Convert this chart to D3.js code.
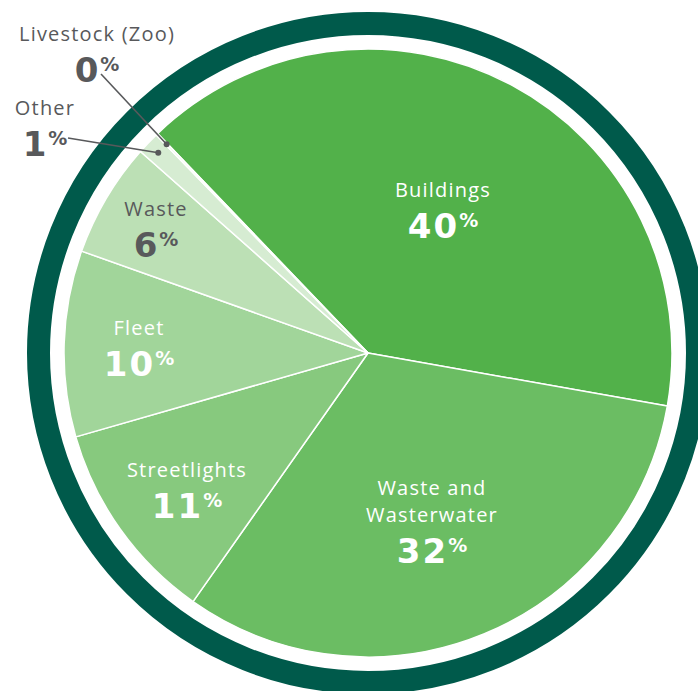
<!DOCTYPE html>
<html lang="en">
  <head>
    <meta charset="utf-8">
    <title>Emissions by sector</title>
    <script src="https://d3js.org/d3.v7.min.js"></script>
    <style>
      body { margin: 0; background: #fff; }
      svg { display: block; }
      .name { font-family: "Open Sans", sans-serif; font-size: 20px; font-weight: 400; letter-spacing: 1.2px; }
      .pct { font-family: "DejaVu Sans", sans-serif; font-size: 34px; font-weight: 700; letter-spacing: 2px; }
      .sup { font-size: 19px; letter-spacing: 0; }
    </style>
  </head>
  <body>
    <script>
      // data
      var sectors = ["Buildings", "Waste and Wasterwater", "Streetlights", "Fleet", "Waste", "Other", "Livestock (Zoo)"];
      var shares = [40.0, 32.0, 10.8, 9.9, 6.1, 1.2, 0.1];
      var shown = ["40", "32", "11", "10", "6", "1", "0"];

      var width = 698, height = 691,
          cx = 368, cy = 353,
          radius = 304;

      var colors = ["#52b14a", "#6bbd63", "#87c97e", "#a1d59a", "#bce0b5", "#d6ecd2", "#e3f2e0"];

      // label placement (layout only)
      var labelPos = [
        {x: 443, y: 197, lines: ["Buildings"], fill: "#fff"},
        {x: 432, y: 495, lines: ["Waste and", "Wasterwater"], fill: "#fff"},
        {x: 187, y: 477, lines: ["Streetlights"], fill: "#fff"},
        {x: 139, y: 335, lines: ["Fleet"], fill: "#fff"},
        {x: 156, y: 216, lines: ["Waste"], fill: "#58595b"},
        {x: 45, y: 115, lines: ["Other"], fill: "#58595b"},
        {x: 97, y: 41, lines: ["Livestock (Zoo)"], fill: "#58595b"}
      ];

      var svg = d3.select("body").append("svg")
        .attr("width", width)
        .attr("height", height);

      var g = svg.append("g")
        .attr("transform", "translate(" + cx + "," + cy + ")");

      // outer ring
      g.append("circle")
        .attr("r", 329.5)
        .attr("fill", "none")
        .attr("stroke", "#005a4b")
        .attr("stroke-width", 23);

      var start = -43.8 * Math.PI / 180;
      var pie = d3.pie()
        .sort(null)
        .value(function(d) { return d; })
        .startAngle(start)
        .endAngle(start + 2 * Math.PI);

      var arcs = pie(shares);

      var arc = d3.arc().innerRadius(0).outerRadius(radius);

      g.selectAll("path.slice")
        .data(arcs)
        .enter().append("path")
        .attr("class", "slice")
        .attr("d", arc)
        .attr("fill", function(d, i) { return colors[i]; })
        .attr("stroke", "#fff")
        .attr("stroke-width", 1.5)
        .attr("stroke-linejoin", "round");

      // leader lines for the two small slices
      var dotArc = d3.arc().innerRadius(290).outerRadius(290);
      var leaders = [
        {i: 5, from: [68 - cx, 138 - cy]},
        {i: 6, from: [101 - cx, 74 - cy]}
      ];
      leaders.forEach(function(l) {
        var c = dotArc.centroid(arcs[l.i]);
        g.append("line")
          .attr("x1", l.from[0]).attr("y1", l.from[1])
          .attr("x2", c[0]).attr("y2", c[1])
          .attr("stroke", "#58595b")
          .attr("stroke-width", 1.6);
        g.append("circle")
          .attr("cx", c[0]).attr("cy", c[1])
          .attr("r", 3)
          .attr("fill", "#58595b");
      });

      // labels
      labelPos.forEach(function(p, i) {
        var lab = svg.append("g").attr("fill", p.fill);
        p.lines.forEach(function(t, k) {
          lab.append("text")
            .attr("class", "name")
            .attr("x", p.x)
            .attr("y", p.y + k * 27)
            .attr("text-anchor", "middle")
            .text(t);
        });
        var t = lab.append("text")
          .attr("class", "pct")
          .attr("x", p.x)
          .attr("y", p.y + (p.lines.length - 1) * 27 + 41)
          .attr("text-anchor", "middle");
        t.append("tspan").text(shown[i]);
        t.append("tspan")
          .attr("class", "sup")
          .attr("dy", -11)
          .text("%");
      });
    </script>
  </body>
</html>
